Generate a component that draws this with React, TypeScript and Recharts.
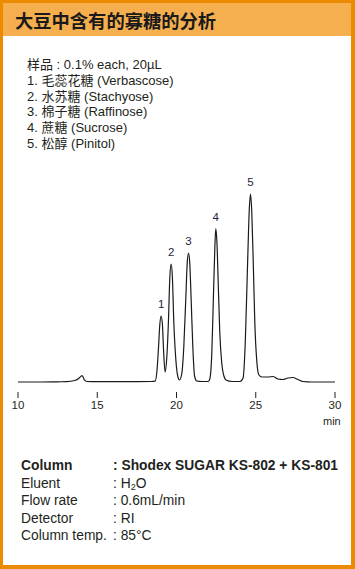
import { LineChart, Line, XAxis, YAxis, ReferenceDot } from 'recharts'

// retention time (min) and detector signal (arbitrary units)
const times = [
  10.0, 11.5, 12.5, 13.07, 13.58, 13.83, 13.96, 14.04, 14.12, 14.2, 14.34, 15.0, 17.0, 18.4,
  18.65, 18.76, 18.86, 18.95, 19.03, 19.11, 19.18, 19.28, 19.39, 19.49, 19.58, 19.66, 19.74,
  19.83, 19.96, 20.09, 20.19, 20.33, 20.46, 20.59, 20.68, 20.76, 20.84, 20.93, 21.03, 21.14,
  21.28, 21.6, 22.0, 22.1, 22.23, 22.32, 22.42, 22.48, 22.55, 22.64, 22.73, 22.86, 22.99,
  23.12, 23.5, 24.0, 24.2, 24.34, 24.47, 24.6, 24.67, 24.75, 24.85, 24.94, 25.07, 25.2,
  25.39, 25.77, 26.08, 26.4, 26.71, 27.03, 27.34, 27.66, 27.97, 28.5, 30.0,
]
const signal = [
  0, 0, 0.2, 0.3, 1.5, 3.5, 5.5, 6.5, 4.5, 1.8, 0.5, 0.3, 0.3, 0.5,
  0.8, 10, 33, 58, 66, 58, 33, 10, 25, 60, 105, 118, 105,
  60, 22, 5, 2, 8, 35, 85, 120, 129, 118, 80, 35, 6,
  1, 0.5, 0.5, 3, 30, 80, 135, 153.5, 140, 95, 50, 18, 6,
  2, 0.5, 0.5, 4, 40, 110, 175, 188, 170, 115, 60, 20, 7,
  5, 5, 5.5, 3, 2.5, 4, 4.5, 2.5, 0.5, 0, 0,
]

const peakLabels = ['1', '2', '3', '4', '5']
const peakTimes = [19.03, 19.66, 20.76, 22.48, 24.67]
const peakHeights = [66, 118, 129, 153.5, 188]

const xTicks = [10, 15, 20, 25, 30]

const sampleLines = [
  '样品 : 0.1% each, 20µL',
  '1. 毛蕊花糖 (Verbascose)',
  '2. 水苏糖 (Stachyose)',
  '3. 棉子糖 (Raffinose)',
  '4. 蔗糖 (Sucrose)',
  '5. 松醇 (Pinitol)',
]

const condLabels = ['Column', 'Eluent', 'Flow rate', 'Detector', 'Column temp.']

const FONT = '"Liberation Sans", Arial, "Noto Sans CJK SC", sans-serif'
const TEXT = '#231f20'

export default function App() {
  const data = times.map((t, i) => ({ t, s: signal[i] }))

  const condValues = [
    'Shodex SUGAR KS-802 + KS-801',
    <>H<sub style={{ fontSize: 9, verticalAlign: -2, lineHeight: 0 }}>2</sub>O</>,
    '0.6mL/min',
    'RI',
    '85°C',
  ]

  return (
    <div style={{ position: 'absolute', left: 0, top: 0, width: 355, height: 569, background: '#fff', fontFamily: FONT, color: TEXT, overflow: 'hidden' }}>
      <div style={{ position: 'absolute', left: 0, top: 0, width: 355, height: 36, background: '#F5AF4F' }} />
      <div style={{ position: 'absolute', left: 15, top: 8, fontSize: 18.3, fontWeight: 700, lineHeight: '25px', color: '#1a1a1a', fontFamily: '"Noto Sans CJK SC", sans-serif', whiteSpace: 'nowrap' }}>
        大豆中含有的寡糖的分析
      </div>

      <div style={{ position: 'absolute', left: 27, top: 57, fontSize: 13, lineHeight: '15.8px' }}>
        {sampleLines.map((l) => (
          <div key={l} style={{ whiteSpace: 'nowrap' }}>{l}</div>
        ))}
      </div>

      <div style={{ position: 'absolute', left: 0, top: 150 }}>
        <LineChart width={355} height={290} data={data} margin={{ top: 2, right: 20, bottom: 18, left: 18 }}>
          <XAxis
            dataKey="t"
            type="number"
            domain={[10, 30]}
            ticks={xTicks}
            axisLine={false}
            tickSize={6}
            tickMargin={3}
            height={30}
            tickLine={{ stroke: '#231f20', strokeWidth: 1 }}
            tick={{ fill: TEXT, fontSize: 11.5, fontFamily: FONT }}
          />
          <YAxis hide domain={[-10, 230]} />
          <Line type="monotone" dataKey="s" stroke="#1a1a1a" strokeWidth={1.2} dot={false} isAnimationActive={false} />
          {peakTimes.map((t, i) => (
            <ReferenceDot
              key={peakLabels[i]}
              x={t}
              y={peakHeights[i]}
              r={0}
              fill="none"
              stroke="none"
              label={{ value: peakLabels[i], position: 'top', offset: 8, fill: '#1f2340', fontSize: 11.5, fontFamily: FONT }}
            />
          ))}
        </LineChart>
      </div>
      <div style={{ position: 'absolute', left: 323, top: 414, fontSize: 11, lineHeight: '14px' }}>min</div>

      <div style={{ position: 'absolute', left: 21, top: 457, fontSize: 13.8, lineHeight: '17.5px' }}>
        {condLabels.map((l, i) => (
          <div key={l} style={{ display: 'flex', height: 17.5, whiteSpace: 'nowrap', fontWeight: i === 0 ? 700 : 400 }}>
            <span style={{ width: 92 }}>{l}</span>
            <span>: {condValues[i]}</span>
          </div>
        ))}
      </div>

      <div style={{ position: 'absolute', left: 0, top: 0, width: 355, height: 569, boxSizing: 'border-box', borderStyle: 'solid', borderColor: '#EC8A00', borderWidth: '3px 4px 4px 3px', pointerEvents: 'none' }} />
    </div>
  )
}
